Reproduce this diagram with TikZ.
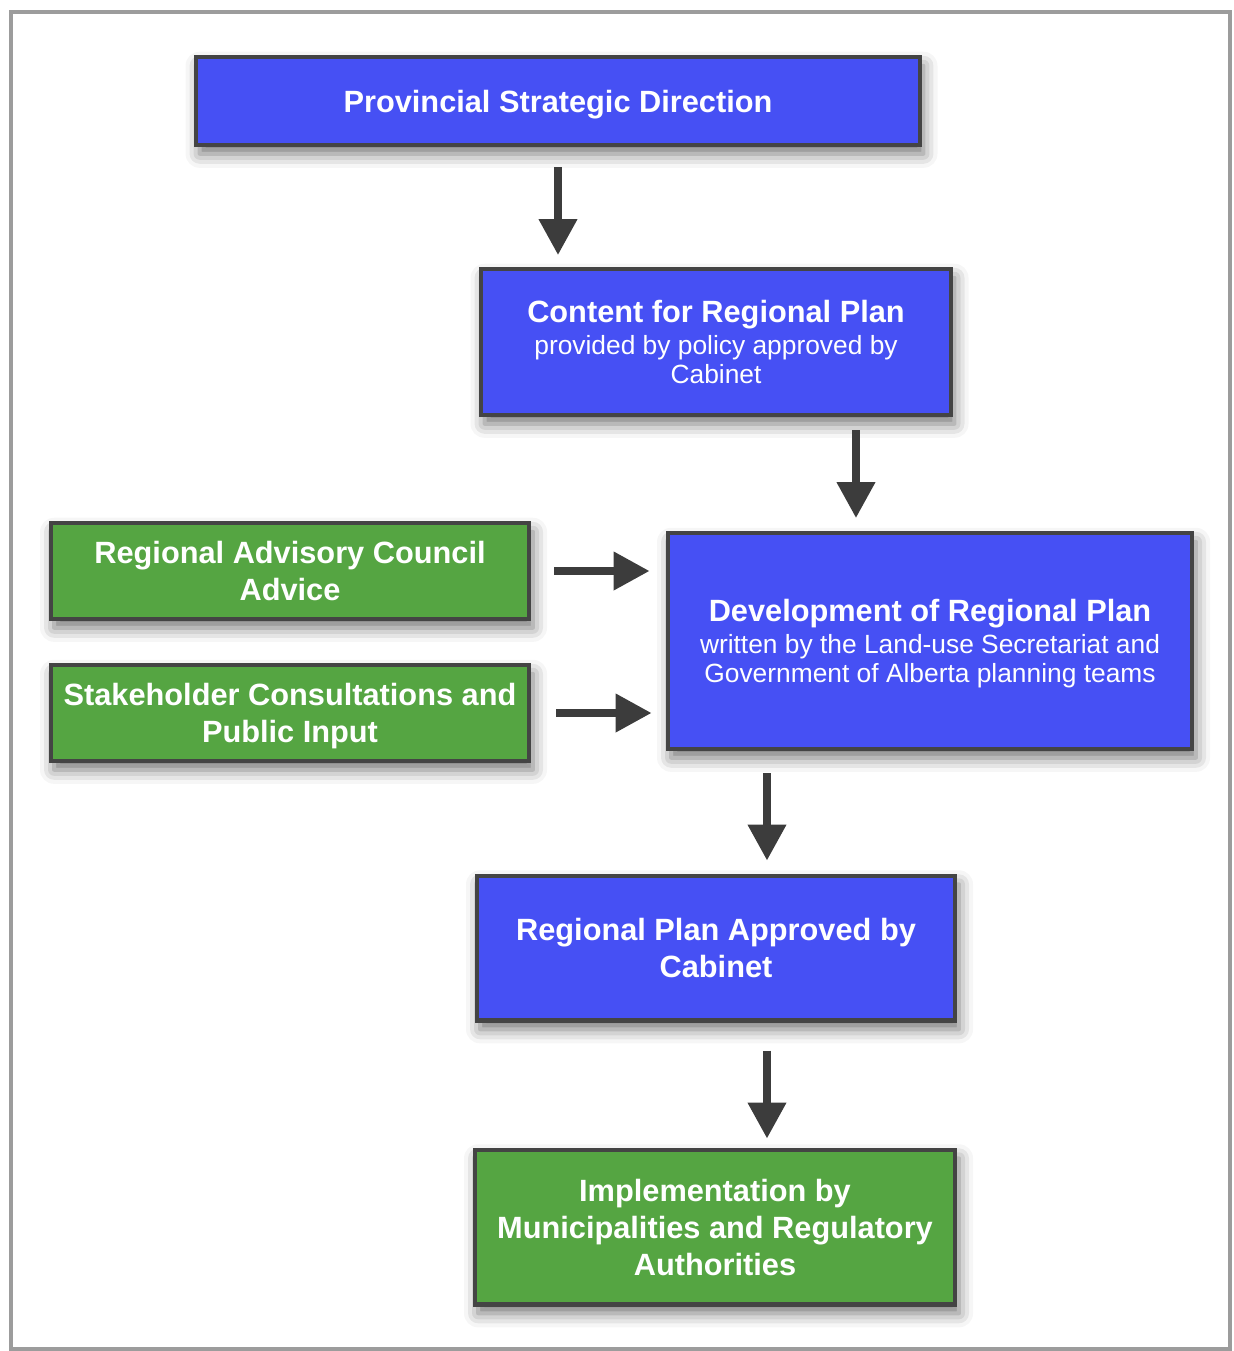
\documentclass[tikz,border=0pt]{standalone}
\usepackage{fontspec}
\setmainfont{Liberation Sans}
\usetikzlibrary{arrows.meta,shadows.blur}

\newcommand{\subtxt}[1]{{\mdseries\fontsize{15}{17}\selectfont #1}}

\begin{document}
\begin{tikzpicture}[x=0.02cm,y=-0.02cm,
  stepbox/.style={draw=boxline,line width=2.3pt,text=white,align=center,inner sep=0pt,
    text depth=0pt,font=\bfseries\fontsize{17.5}{21}\selectfont,
    blur shadow={shadow xshift=2pt,shadow yshift=-5pt,shadow blur radius=8pt,shadow opacity=55}},
  bluebox/.style={stepbox,fill=planblue},
  greenbox/.style={stepbox,fill=inputgreen},
  flow/.style={draw=arrowgray,line width=4.3pt,-{Triangle[length=0.72cm,width=0.74cm]}}]
\definecolor{planblue}{HTML}{4650F4}
\definecolor{inputgreen}{HTML}{55A542}
\definecolor{boxline}{HTML}{444444}
\definecolor{arrowgray}{HTML}{3C3C3C}
\definecolor{framegray}{HTML}{9C9C9C}
\useasboundingbox (0,0) rectangle (1233,1351);
\draw[framegray,line width=2.3pt] (11,12) rectangle (1230,1349);

\node[bluebox,minimum width=14.48cm,minimum height=1.76cm] (psd) at (558,101)
  {Provincial Strategic Direction};
\node[bluebox,minimum width=9.4cm,minimum height=2.92cm] (crp) at (716,342)
  {Content for Regional Plan\\[-3pt] \subtxt{provided by policy approved by}\\[-4pt] \subtxt{Cabinet}};
\node[greenbox,minimum width=9.58cm,minimum height=1.92cm] (rac) at (290,571)
  {Regional Advisory Council\\ Advice};
\node[greenbox,minimum width=9.58cm,minimum height=1.92cm] (scp) at (290,713)
  {Stakeholder Consultations and\\ Public Input};
\node[bluebox,minimum width=10.5cm,minimum height=4.32cm] (drp) at (930,641)
  {Development of Regional Plan\\[-3pt] \subtxt{written by the Land-use Secretariat and}\\[-4pt] \subtxt{Government of Alberta planning teams}};
\node[bluebox,minimum width=9.58cm,minimum height=2.9cm] (rpa) at (716,948)
  {Regional Plan Approved by\\ Cabinet};
\node[greenbox,minimum width=9.62cm,minimum height=3.1cm] (imp) at (715,1227)
  {Implementation by\\ Municipalities and Regulatory\\ Authorities};

\draw[flow,shorten <=0.4cm,shorten >=0.24cm] (psd.south) -- (psd.south |- crp.north);
\draw[flow,shorten <=0.26cm,shorten >=0.26cm] ([xshift=2.8cm]crp.south) -- ([xshift=2.8cm]crp.south |- drp.north);
\draw[flow,shorten <=0.46cm,shorten >=0.32cm] (rac.east) -- (rac.east -| drp.west);
\draw[flow,shorten <=0.5cm,shorten >=0.28cm] (scp.east) -- (scp.east -| drp.west);
\draw[flow,shorten <=0.44cm,shorten >=0.26cm] ([xshift=1.02cm]rpa.north |- drp.south) -- ([xshift=1.02cm]rpa.north);
\draw[flow,shorten <=0.56cm,shorten >=0.18cm] ([xshift=1.02cm]rpa.south) -- ([xshift=1.02cm]rpa.south |- imp.north);
\end{tikzpicture}
\end{document}
